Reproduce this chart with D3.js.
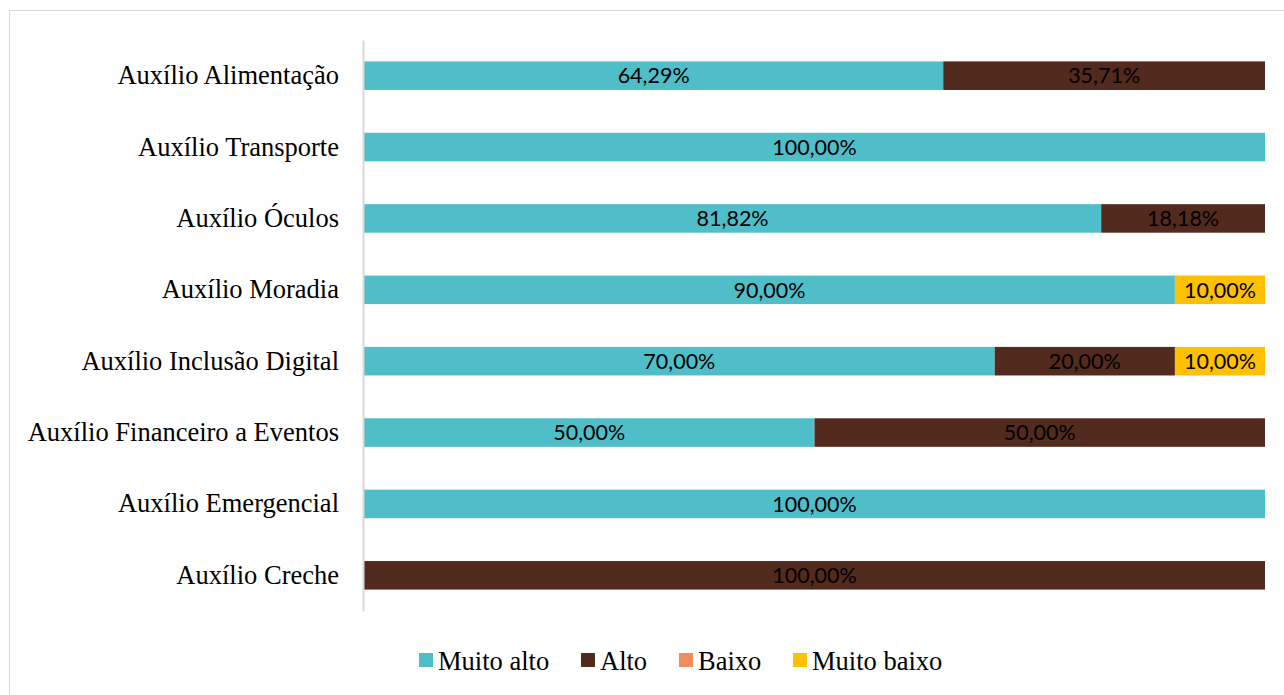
<!DOCTYPE html>
<html lang="pt">
<head>
<meta charset="utf-8">
<title>Auxílios</title>
<script src="https://d3js.org/d3.v7.min.js"></script>
<style>
  body { margin: 0; background: #fff; }
  svg { display: block; }
  .serif { font-family: "Liberation Serif", "Times New Roman", serif; }
</style>
</head>
<body>
<div id="chart"></div>
<script>
// categories, top to bottom
var categories = ["Auxílio Alimentação", "Auxílio Transporte", "Auxílio Óculos", "Auxílio Moradia",
  "Auxílio Inclusão Digital", "Auxílio Financeiro a Eventos", "Auxílio Emergencial", "Auxílio Creche"];
var seriesNames = ["Muito alto", "Alto", "Baixo", "Muito baixo"];
// percentages per series
var muitoAlto  = [64.29, 100, 81.82, 90, 70, 50, 100, 0];
var alto       = [35.71, 0, 18.18, 0, 20, 50, 0, 100];
var baixo      = [0, 0, 0, 0, 0, 0, 0, 0];
var muitoBaixo = [0, 0, 0, 10, 10, 0, 0, 0];
var colours = ["#4FBEC9", "#522A1E", "#F08C5F", "#FFC000"];

var width = 1284, height = 695;
var svg = d3.select("#chart").append("svg")
  .attr("width", width)
  .attr("height", height);

// outer frame
svg.append("rect")
  .attr("x", 9.5).attr("y", 10.5)
  .attr("width", 1290).attr("height", 700)
  .attr("fill", "none").attr("stroke", "#d9d9d9");

var rows = categories.map(function(c, i) {
  return { cat: c, vals: [muitoAlto[i], alto[i], baixo[i], muitoBaixo[i]] };
});

var x = d3.scaleLinear().domain([0, 100]).range([364, 1265]);
var y = d3.scaleBand().domain(categories).range([40, 611]).paddingInner(0.6).paddingOuter(0.3);

// bars
rows.forEach(function(r) {
  var start = 0;
  r.vals.forEach(function(v, k) {
    if (v > 0) {
      svg.append("rect")
        .attr("x", x(start))
        .attr("y", y(r.cat))
        .attr("width", x(start + v) - x(start))
        .attr("height", y.bandwidth())
        .attr("fill", colours[k]);
      svg.append("text")
        .attr("x", (x(start) + x(start + v)) / 2)
        .attr("y", y(r.cat) + y.bandwidth() / 2)
        .attr("dy", "0.36em")
        .attr("text-anchor", "middle")
        .style("font-family", "Lato, 'Open Sans', sans-serif")
        .style("font-size", "21.5px")
        .attr("fill", "#000")
        .text(v.toFixed(2).replace(".", ",") + "%");
    }
    start += v;
  });
});

// category axis
var yAxis = d3.axisLeft(y).tickSize(0).tickPadding(24);
var gy = svg.append("g").attr("transform", "translate(363,0)").call(yAxis);
gy.attr("font-family", null).attr("font-size", null);
gy.select(".domain").attr("stroke", "#d9d9d9").attr("stroke-width", 2);
gy.selectAll("text")
  .attr("class", "serif")
  .style("font-size", "26.5px")
  .attr("fill", "#000");

// legend
var legendX = [419, 581, 679, 793];
var legend = svg.append("g");
seriesNames.forEach(function(s, k) {
  legend.append("rect")
    .attr("x", legendX[k]).attr("y", 653)
    .attr("width", 14).attr("height", 14)
    .attr("fill", colours[k]);
  legend.append("text")
    .attr("class", "serif")
    .attr("x", legendX[k] + 19).attr("y", 661)
    .attr("dy", "0.35em")
    .style("font-size", "26.5px")
    .text(s);
});
</script>
</body>
</html>
